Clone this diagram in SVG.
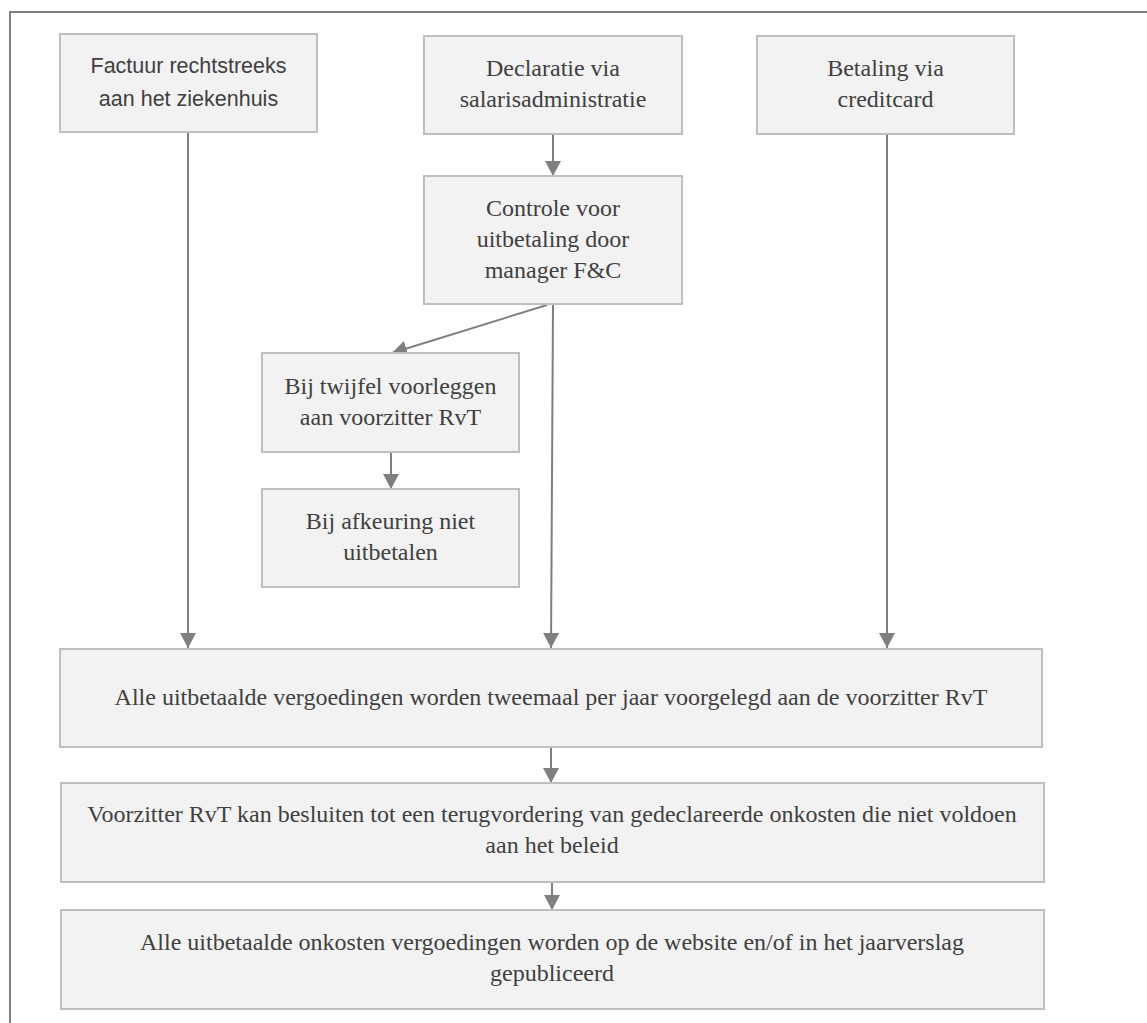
<svg xmlns="http://www.w3.org/2000/svg" width="1147" height="1023" viewBox="0 0 1147 1023">
  <style>
    .box { fill: #f2f2f2; stroke: #bfbfbf; stroke-width: 2; }
    .serif { font-family: "Liberation Serif", "Times New Roman", serif; font-size: 24px; fill: #404040; text-anchor: middle; }
    .sans { font-family: "Liberation Sans", Arial, sans-serif; font-size: 21.5px; fill: #404040; text-anchor: middle; }
    .conn { stroke: #7f7f7f; stroke-width: 2; fill: none; marker-end: url(#arrow); }
  </style>
  <defs>
    <marker id="arrow" markerUnits="userSpaceOnUse" markerWidth="15" markerHeight="16" refX="15" refY="8" orient="auto">
      <path d="M0,0 L15,8 L0,16 Z" fill="#7f7f7f"/>
    </marker>
  </defs>
  <rect x="0" y="0" width="1147" height="1023" fill="#ffffff"/>
  <rect id="frame" x="10" y="12" width="1200" height="1100" fill="none" stroke="#7f7f7f" stroke-width="2"/>

  <g id="connectors">
    <line class="conn" x1="188" y1="132" x2="188" y2="648"/>
    <line class="conn" x1="553" y1="134" x2="553" y2="176"/>
    <line class="conn" x1="887" y1="134" x2="887" y2="648"/>
    <line class="conn" x1="547" y1="305" x2="392" y2="353"/>
    <line class="conn" x1="553" y1="305" x2="551" y2="648"/>
    <line class="conn" x1="391" y1="452" x2="391" y2="489"/>
    <line class="conn" x1="551" y1="747" x2="551" y2="783"/>
    <line class="conn" x1="552" y1="882" x2="552" y2="910"/>
  </g>

  <g id="n-factuur">
    <rect class="box" x="60" y="34" width="257" height="98"/>
    <text class="sans" x="188.5" y="73">Factuur rechtstreeks</text>
    <text class="sans" x="188.5" y="106">aan het ziekenhuis</text>
  </g>
  <g id="n-declaratie">
    <rect class="box" x="424" y="36" width="258" height="98"/>
    <text class="serif" x="553" y="76">Declaratie via</text>
    <text class="serif" x="553" y="107">salarisadministratie</text>
  </g>
  <g id="n-betaling">
    <rect class="box" x="757" y="36" width="257" height="98"/>
    <text class="serif" x="885.5" y="76">Betaling via</text>
    <text class="serif" x="885.5" y="107">creditcard</text>
  </g>
  <g id="n-controle">
    <rect class="box" x="424" y="176" width="258" height="128"/>
    <text class="serif" x="553" y="216">Controle voor</text>
    <text class="serif" x="553" y="247">uitbetaling door</text>
    <text class="serif" x="553" y="278">manager F&amp;C</text>
  </g>
  <g id="n-twijfel">
    <rect class="box" x="262" y="353" width="257" height="99"/>
    <text class="serif" x="390.5" y="394">Bij twijfel voorleggen</text>
    <text class="serif" x="390.5" y="425">aan voorzitter RvT</text>
  </g>
  <g id="n-afkeuring">
    <rect class="box" x="262" y="489" width="257" height="98"/>
    <text class="serif" x="390.5" y="529">Bij afkeuring niet</text>
    <text class="serif" x="390.5" y="560">uitbetalen</text>
  </g>
  <g id="n-tweemaal">
    <rect class="box" x="60" y="649" width="982" height="98"/>
    <text class="serif" x="551" y="705">Alle uitbetaalde vergoedingen worden tweemaal per jaar voorgelegd aan de voorzitter RvT</text>
  </g>
  <g id="n-terugvordering">
    <rect class="box" x="61" y="783" width="983" height="99"/>
    <text class="serif" x="552" y="822">Voorzitter RvT kan besluiten tot een terugvordering van gedeclareerde onkosten die niet voldoen</text>
    <text class="serif" x="552" y="853">aan het beleid</text>
  </g>
  <g id="n-publicatie">
    <rect class="box" x="61" y="910" width="983" height="99"/>
    <text class="serif" x="552" y="950">Alle uitbetaalde onkosten vergoedingen worden op de website en/of in het jaarverslag</text>
    <text class="serif" x="552" y="981">gepubliceerd</text>
  </g>
</svg>
